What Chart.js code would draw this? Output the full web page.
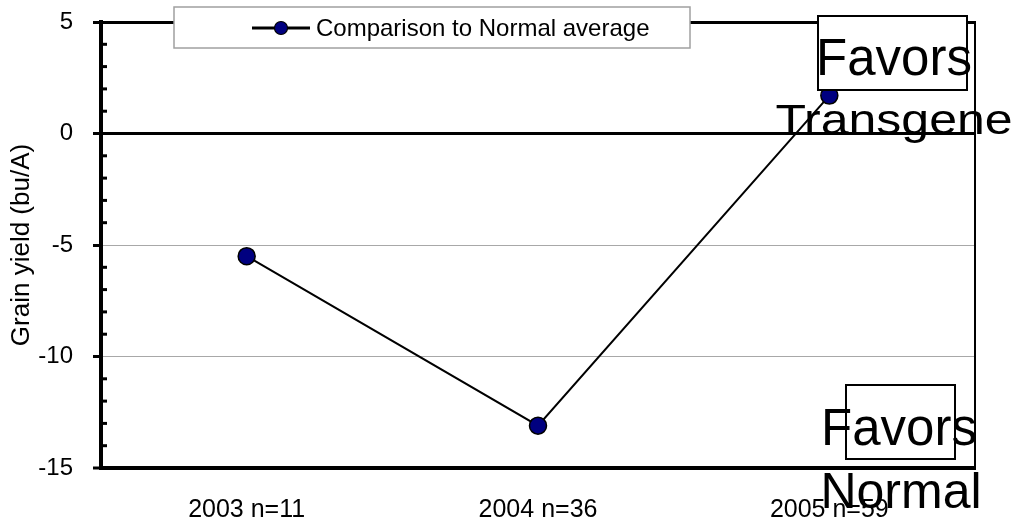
<!DOCTYPE html>
<html>
<head>
<meta charset="utf-8">
<script src="https://cdn.jsdelivr.net/npm/chart.js@4"></script>
<style>
  body { margin: 0; background: #fff; }
  #wrap { width: 1019px; height: 527px; position: relative; }
</style>
</head>
<body>
<div id="wrap"><canvas id="yieldChart"></canvas></div>
<script>
// data
const years = ['2003 n=11', '2004 n=36', '2005 n=59'];
const yieldDiff = [-5.5, -13.1, 1.7];
const seriesName = 'Comparison to Normal average';
const yTicks = [-15, -10, -5, 0, 5];
const topNote = ['Favors', 'Transgene'];
const bottomNote = ['Favors', 'Normal'];

const FONT = '"Liberation Sans", Arial, sans-serif';

// small inward ticks every 1 unit on the value axis
const minorTicks = {
    id: 'minorTicks',
    afterDraw(chart) {
        const { ctx, chartArea, scales } = chart;
        const y = scales.y;
        ctx.save();
        ctx.strokeStyle = '#000';
        ctx.lineWidth = 3;
        for (let v = y.min; v <= y.max; v++) {
            if (v % 5 === 0) continue;
            const py = y.getPixelForValue(v);
            ctx.beginPath();
            ctx.moveTo(chartArea.left, py);
            ctx.lineTo(chartArea.left + 6, py);
            ctx.stroke();
        }
        // thin right frame
        ctx.lineWidth = 2;
        ctx.beginPath();
        ctx.moveTo(chartArea.right, chartArea.top - 1);
        ctx.lineTo(chartArea.right, chartArea.bottom);
        ctx.stroke();
        ctx.restore();
    }
};

// boxed legend at the top, Excel style
const boxLegend = {
    id: 'boxLegend',
    afterDraw(chart) {
        const { ctx } = chart;
        const ds = chart.data.datasets[0];
        ctx.save();
        ctx.fillStyle = '#fff';
        ctx.fillRect(174, 7, 516, 41);
        ctx.strokeStyle = '#a0a0a0';
        ctx.lineWidth = 1.5;
        ctx.strokeRect(174, 7, 516, 41);
        ctx.strokeStyle = ds.borderColor;
        ctx.lineWidth = 3;
        ctx.beginPath();
        ctx.moveTo(252, 28);
        ctx.lineTo(310, 28);
        ctx.stroke();
        ctx.beginPath();
        ctx.arc(281, 28, 6.5, 0, Math.PI * 2);
        ctx.fillStyle = ds.pointBackgroundColor;
        ctx.fill();
        ctx.lineWidth = 1.2;
        ctx.stroke();
        ctx.fillStyle = '#000';
        ctx.font = '24px ' + FONT;
        ctx.textBaseline = 'alphabetic';
        ctx.fillText(ds.label, 316, 36);
        ctx.restore();
    }
};

// the two "Favors ..." text boxes
const notes = {
    id: 'notes',
    afterDraw(chart) {
        const { ctx } = chart;
        ctx.save();
        ctx.strokeStyle = '#000';
        ctx.lineWidth = 2;
        ctx.fillStyle = '#fff';
        ctx.fillRect(818, 16, 149, 74);
        ctx.strokeRect(818, 16, 149, 74);
        ctx.fillRect(846, 385, 109, 74);
        ctx.strokeRect(846, 385, 109, 74);

        ctx.fillStyle = '#000';
        ctx.textAlign = 'center';
        ctx.textBaseline = 'alphabetic';
        ctx.font = '51px ' + FONT;
        ctx.fillText(topNote[0], 894, 75);
        ctx.save();
        ctx.translate(894, 134);
        ctx.scale(1, 0.86);
        ctx.font = '50px ' + FONT;
        ctx.fillText(topNote[1], 0, 0);
        ctx.restore();

        ctx.font = '51px ' + FONT;
        ctx.fillText(bottomNote[0], 899, 445);
        ctx.font = '50px ' + FONT;
        ctx.fillText(bottomNote[1], 901, 508);
        ctx.restore();
    }
};

const ctx = document.getElementById('yieldChart').getContext('2d');
new Chart(ctx, {
    type: 'line',
    data: {
        labels: years,
        datasets: [{
            label: seriesName,
            data: yieldDiff,
            borderColor: '#000',
            borderWidth: 2,
            pointBackgroundColor: '#000080',
            pointBorderColor: '#000',
            pointBorderWidth: 1.5,
            pointRadius: 8.5,
            fill: false,
            tension: 0
        }]
    },
    options: {
        responsive: true,
        maintainAspectRatio: false,
        animation: false,
        layout: { padding: { top: 22, right: 44, left: 0, bottom: 0 } },
        plugins: { legend: { display: false }, tooltip: { enabled: false } },
        scales: {
            x: {
                offset: true,
                grid: { display: false, drawTicks: false },
                border: { display: true, color: '#000', width: 4 },
                ticks: { color: '#000', font: { family: FONT, size: 25 }, padding: 27, maxRotation: 0 },
                afterFit(scale) {
                    scale.height = 59;
                    scale.paddingLeft = 0;
                    scale.paddingRight = 0;
                }
            },
            y: {
                min: -15,
                max: 5,
                afterBuildTicks(scale) { scale.ticks = yTicks.map(v => ({ value: v })); },
                grid: {
                    color: c => (c.tick.value === -5 || c.tick.value === -10) ? '#a8a8a8' : '#000',
                    lineWidth: c => (c.tick.value === 0 || c.tick.value === 5) ? 3 : (c.tick.value === -15 ? 0 : 1),
                    tickColor: '#000',
                    tickWidth: 3,
                    tickLength: 8
                },
                border: { display: true, color: '#000', width: 4 },
                ticks: { color: '#000', font: { family: FONT, size: 24 }, padding: 20 },
                title: {
                    display: true,
                    text: 'Grain yield (bu/A)',
                    color: '#000',
                    font: { family: FONT, size: 26 },
                    padding: { top: 6, bottom: 0 }
                },
                afterFit(scale) {
                    scale.width = 101;
                    scale.paddingTop = 0;
                    scale.paddingBottom = 0;
                }
            }
        }
    },
    plugins: [minorTicks, boxLegend, notes]
});
</script>
</body>
</html>
